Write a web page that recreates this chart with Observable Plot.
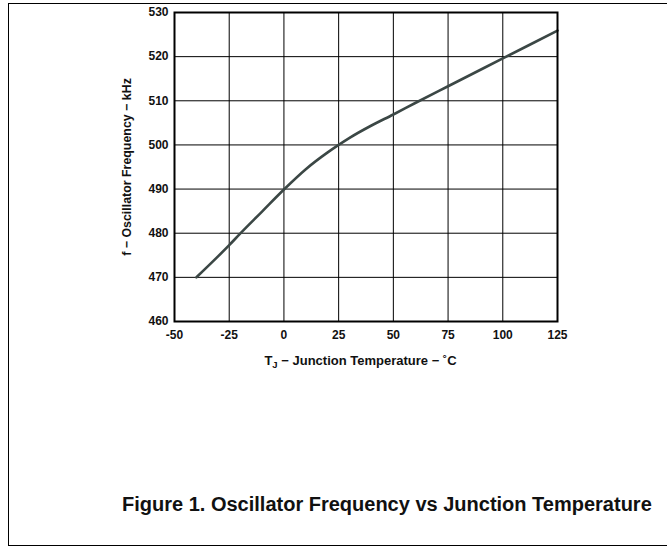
<!DOCTYPE html>
<html>
<head>
<meta charset="utf-8">
<script src="https://cdn.jsdelivr.net/npm/d3@7"></script>
<script src="https://cdn.jsdelivr.net/npm/@observablehq/plot@0.6"></script>
<style>
  body { margin: 0; background: #fff; }
  #wrap { position: relative; width: 671px; height: 550px; font-family: "Liberation Sans", Arial, sans-serif; }
  #box { position: absolute; left: 8px; top: 3px; width: 659px; height: 543px; border-left: 1.5px solid #000; border-top: 1.5px solid #000; border-bottom: 1.5px solid #000; box-sizing: border-box; }
  #chart { position: absolute; left: 0; top: 0; }
  #chart svg text { font-family: "Liberation Sans", Arial, sans-serif; font-weight: bold; font-size: 12px; fill: #111; }
  #chart svg g[aria-label="y-axis label"] text { font-size: 12.4px; }
  #xtitle { position: absolute; left: 0; width: 721px; top: 353px; text-align: center; font-weight: bold; font-size: 13px; color: #111; }
  #xtitle sub { font-size: 9.5px; vertical-align: -3px; line-height: 0; }
  #caption { position: absolute; left: 122px; top: 493px; font-weight: bold; font-size: 20px; color: #111; white-space: nowrap; }
</style>
</head>
<body>
<div id="wrap">
  <div id="box"></div>
  <div id="chart"></div>
  <div id="xtitle">T<sub>J</sub> &#8722; Junction Temperature &#8722; ˚C</div>
  <div id="caption">Figure 1. Oscillator Frequency vs Junction Temperature</div>
</div>
<script>
const temps = [-40, -30, -25, -20, -10, 0, 10, 20, 25, 30, 40, 50, 60, 75, 100, 125];
const freqs = [470, 474.8, 477.3, 479.9, 484.9, 489.9, 494.5, 498.3, 500.0, 501.6, 504.4, 506.9, 509.5, 513.3, 519.6, 525.9];
const xTicks = [-50, -25, 0, 25, 50, 75, 100, 125];
const yTicks = [460, 470, 480, 490, 500, 510, 520, 530];
const yLabel = "f \u2212 Oscillator Frequency \u2212 kHz";

const data = temps.map((t, i) => ({t, f: freqs[i]}));

const plot = Plot.plot({
  width: 671,
  height: 380,
  marginLeft: 174,
  marginRight: 114,
  marginTop: 12,
  marginBottom: 59,
  style: {background: "transparent", color: "#111"},
  x: {domain: [-50, 125]},
  y: {domain: [460, 530]},
  marks: [
    Plot.ruleX(xTicks, {stroke: "#000", strokeWidth: 1}),
    Plot.ruleY(yTicks, {stroke: "#000", strokeWidth: 1}),
    Plot.axisX({ticks: xTicks, tickSize: 0, tickPadding: 9, tickFormat: d => String(d), label: null}),
    Plot.axisY({ticks: yTicks, tickSize: 0, tickPadding: 6, tickFormat: d => String(d), label: yLabel, labelAnchor: "center", labelArrow: "none", labelOffset: 52}),
    Plot.line(data, {x: "t", y: "f", stroke: "#3b4745", strokeWidth: 2.6, curve: "monotone-x"}),
    Plot.frame({stroke: "#000", strokeWidth: 2})
  ]
});
document.getElementById("chart").appendChild(plot);
</script>
</body>
</html>
